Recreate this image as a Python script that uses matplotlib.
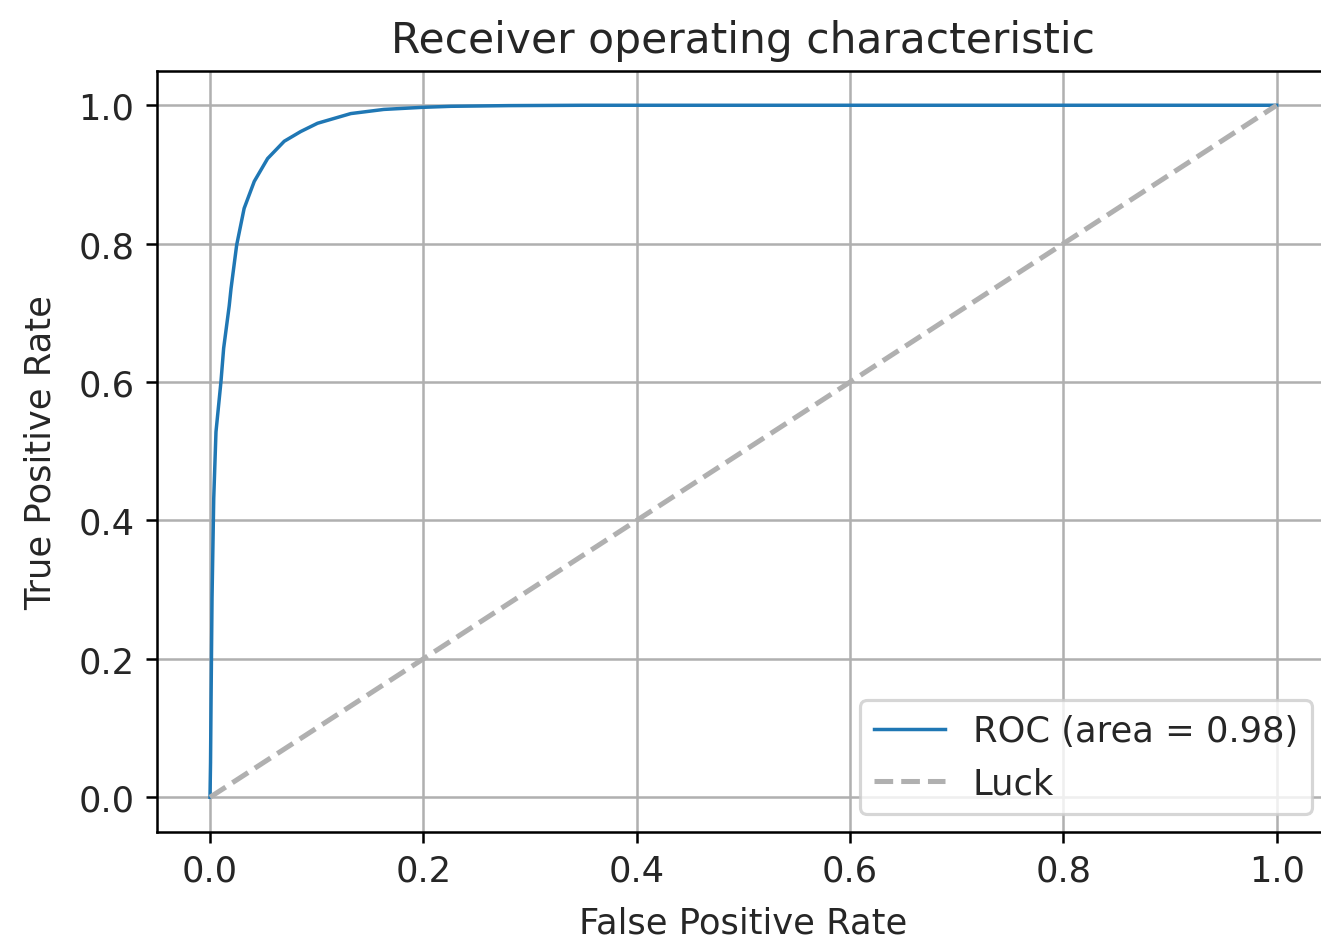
import matplotlib
matplotlib.use("Agg")
import matplotlib.pyplot as plt

fpr = [0.0, 0.0005, 0.001, 0.0019, 0.0035, 0.0056, 0.0103, 0.0128, 0.018, 0.0197,
       0.025, 0.032, 0.0415, 0.054, 0.0696, 0.085, 0.1008, 0.132, 0.163, 0.199,
       0.226, 0.28, 0.35, 0.5, 0.7, 0.9, 1.0]
tpr = [0.0, 0.05, 0.143, 0.288, 0.432, 0.528, 0.601, 0.649, 0.710, 0.735,
       0.798, 0.851, 0.890, 0.923, 0.948, 0.962, 0.974, 0.988, 0.994, 0.997,
       0.9985, 0.9995, 1.0, 1.0, 1.0, 1.0, 1.0]
luck_x = [0, 1]
luck_y = [0, 1]
roc_auc = 0.98

plt.rcParams["font.size"] = 11.2
plt.rcParams["text.color"] = "#262626"
plt.rcParams["xtick.labelcolor"] = "#262626"
plt.rcParams["ytick.labelcolor"] = "#262626"
plt.rcParams["axes.labelcolor"] = "#262626"

DPI = 227
fig = plt.figure(figsize=(1321 / DPI, 943 / DPI), dpi=DPI)
ax = fig.add_axes([0.1186, 0.1168, 0.8882, 0.8072])
ax.plot(fpr, tpr, color="#1f77b4", lw=1.1, label="ROC (area = %0.2f)" % roc_auc)
ax.plot(luck_x, luck_y, linestyle="--", color="#b0b0b0", lw=1.6, label="Luck")
ax.set_xlim(-0.05, 1.05)
ax.set_ylim(-0.05, 1.05)
ax.set_xticks([0.0, 0.2, 0.4, 0.6, 0.8, 1.0])
ax.set_yticks([0.0, 0.2, 0.4, 0.6, 0.8, 1.0])
ax.grid(True, color="#b0b0b0", lw=0.8)
ax.set_axisbelow(True)
ax.set_xlabel("False Positive Rate", labelpad=5.5)
ax.set_ylabel("True Positive Rate", labelpad=6.5)
ax.set_title("Receiver operating characteristic")
ax.legend(loc="lower right")
fig.savefig("out.png", dpi=DPI)
